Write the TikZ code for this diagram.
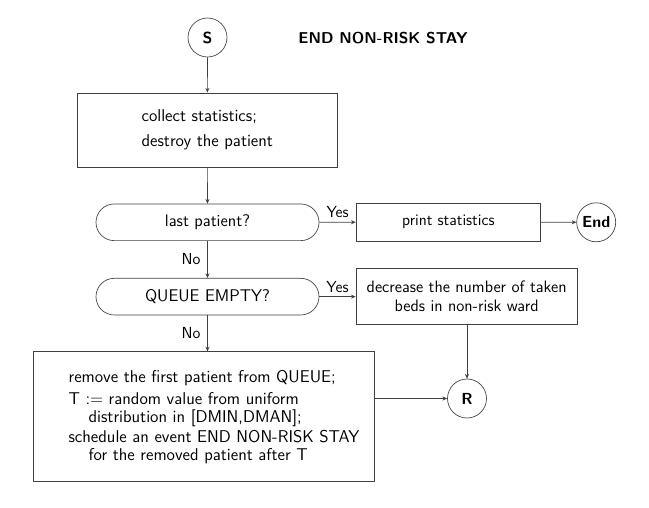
\documentclass[tikz,border=0pt]{standalone}
\usepackage{fontspec}
\usetikzlibrary{arrows.meta}
\begin{document}
\begin{tikzpicture}[x=0.75pt,y=-0.75pt,
  every node/.style={font=\sffamily},
  line/.style={draw=black!75,line width=0.5pt},
  arr/.style={line,-{Stealth[length=3.5pt,width=3pt]}},
  circ/.style={circle,line,minimum size=29.25pt,inner sep=0pt,font=\sffamily\bfseries\fontsize{12}{14}\selectfont},
  procbox/.style={rectangle,line,inner sep=0pt,align=center},
  decbox/.style={rectangle,line,rounded corners=13.7pt,minimum width=167.25pt,minimum height=27.5pt,inner sep=0pt},
  lbl/.style={inner sep=0pt,font=\sffamily\fontsize{12}{14}\selectfont}
]
\useasboundingbox (0,0) rectangle (649,507);

\node[circ] (S) at (207.5,37.5) {S};
\node[inner sep=0pt,font=\sffamily\bfseries\fontsize{11.8}{14}\selectfont] (title) at (383,38) {END NON-RISK STAY};

\node[procbox,minimum width=195pt,minimum height=55.7pt,align=left,
  font=\sffamily\fontsize{12.8}{18.75}\selectfont] (b1) at (207.3,130)
  {collect statistics;\\destroy the patient};

\node[decbox,font=\sffamily\fontsize{12.6}{14}\selectfont] (d1) at (207.5,222.3) {last patient?};
\node[procbox,minimum width=138.5pt,minimum height=28.3pt,font=\sffamily\fontsize{12}{14}\selectfont] (pr) at (448.35,222.15) {print statistics};
\node[circ] (E) at (596.2,222.3) {End};

\node[decbox,font=\sffamily\fontsize{12.7}{14}\selectfont] (d2) at (207.5,296.65) {QUEUE EMPTY?};
\node[procbox,minimum width=166pt,minimum height=41.6pt,font=\sffamily\fontsize{12.4}{13.9}\selectfont] (dec) at (466.65,296.25)
  {decrease the number of taken\\beds in non-risk ward};

\node[procbox,minimum width=255.75pt,minimum height=97.5pt] (big) at (203.8,416.7) {};
\node[anchor=west,inner sep=0pt,align=left,font=\sffamily\fontsize{12.8}{13.2}\selectfont] (bigtxt) at (68.3,416.7)
  {remove the first patient from QUEUE;\\[3.5pt]
   T := random value from uniform\\
   \hspace*{15pt}distribution in [DMIN,DMAN];\\[2pt]
   schedule an event END NON-RISK STAY\\
   \hspace*{15pt}for the removed patient after T};

\node[circ] (R) at (467,398.5) {R};

\draw[arr] (S) -- (b1);
\draw[arr] (b1) -- (d1);
\draw[arr] (d1) -- (d2) node[lbl,pos=0.5,left=5pt] {No};
\draw[arr] (d2.south) -- (d2.south |- big.north) node[lbl,pos=0.5,left=5pt] {No};
\draw[arr] (d1) -- (pr) node[lbl,pos=0.5,above=3pt] {Yes};
\draw[arr] (pr) -- (E);
\draw[arr] (d2.east) -- (d2.east -| dec.west) node[lbl,pos=0.5,above=3pt] {Yes};
\draw[arr] (dec.south -| R) -- (R);
\draw[arr] (big.east |- R) -- (R);
\end{tikzpicture}
\end{document}
